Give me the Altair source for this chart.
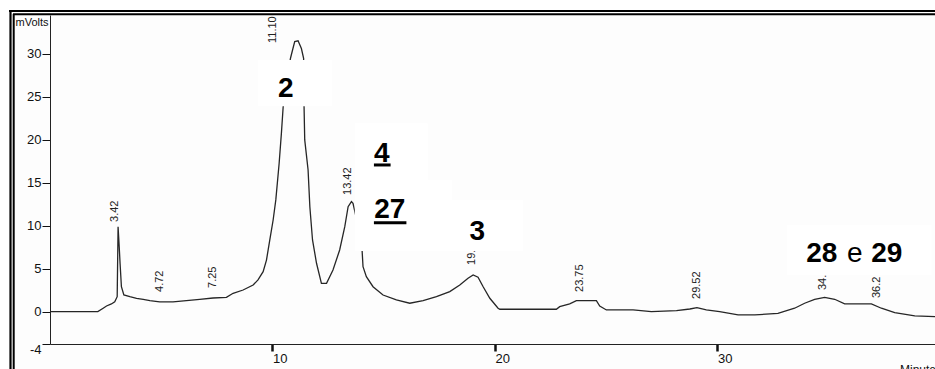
import altair as alt
import pandas as pd

# Detector trace: retention time (min) and signal (mV)
times = [
    0, 2.15, 2.39, 2.54, 2.76, 2.91, 3.02, 3.06, 3.11, 3.15, 3.21, 3.32,
    3.59, 3.89, 4.19, 4.49, 4.93, 5.53, 6.13, 6.73, 7.33, 7.93, 8.23, 8.68,
    9.13, 9.35, 9.58, 9.73, 9.88, 10.03, 10.15, 10.3, 10.4, 10.48,
    10.65, 10.81, 10.9, 11.0, 11.15, 11.3, 11.4, 11.42,
    11.45, 11.6, 11.68, 11.8, 11.98, 12.2, 12.43, 12.72, 13.02, 13.25, 13.4, 13.55, 13.62, 13.8,
    14.03, 14.07, 14.22, 14.52, 14.97, 15.57, 16.17, 16.77, 17.37, 17.97, 18.42, 18.79,
    19.02, 19.24, 19.47, 19.77, 20.14,
    20.22, 22.76, 22.91, 23.36, 23.66, 24.56, 24.71, 25.01, 26.21, 27.03, 28.16, 28.76,
    29.08, 29.5, 30.1, 30.93, 31.68, 32.72, 33.47, 33.92, 34.37, 34.82, 35.27, 35.72,
    36.17, 36.92, 37.37, 37.97, 38.87, 39.78,
]
signal = [
    0, 0, 0.4, 0.66, 0.9, 1.16, 1.74, 9.88, 7.6, 5.6, 2.9, 1.94,
    1.74, 1.55, 1.44, 1.28, 1.13, 1.13, 1.28, 1.44, 1.59, 1.67, 2.14, 2.52,
    3.1, 3.69, 4.65, 6.0, 8.34, 10.66, 13.0, 17.26, 20.7, 23.8,
    27.0, 29.47, 30.4, 31.4, 31.5, 30.6, 29.47, 23.8,
    19.97, 16.5, 12.2, 8.34, 5.63, 3.3, 3.3, 4.85, 7.17, 9.88, 12.2, 12.8, 12.6, 10.5,
    7.06, 5.23, 4.07, 2.9, 1.94, 1.36, 0.98, 1.28, 1.74, 2.33, 3.1, 3.88,
    4.27, 4.0, 2.9, 1.56, 0.4,
    0.28, 0.28, 0.58, 0.9, 1.28, 1.28, 0.66, 0.2, 0.2, 0.0, 0.12, 0.31,
    0.47, 0.2, 0.0, -0.38, -0.38, -0.19, 0.4, 0.98, 1.44, 1.67, 1.44, 0.9,
    0.9, 0.9, 0.4, -0.12, -0.5, -0.58,
]

# Retention-time tags printed vertically above the peaks
tag_text = ["3.42", "4.72", "7.25", "11.10", "13.42", "19.", "23.75", "29.52", "34.", "36.2"]
tag_time = [2.92, 4.94, 7.32, 10.01, 13.38, 18.99, 23.81, 29.07, 34.73, 37.16]
tag_level = [10.43, 2.29, 2.76, 31.24, 13.57, 5.43, 2.29, 1.48, 2.52, 1.59]

# Compound numbers (bold) and the joining word
num_text = ["2", "4", "27", "3", "28", "29"]
num_time = [10.6, 14.91, 15.27, 19.21, 34.69, 37.61]
num_level = [24.93, 17.44, 10.86, 8.34, 5.73, 5.73]
word_text = ["e"]
word_time = [36.17]
word_level = [5.73]

# White panels behind the compound numbers
box_t0 = [9.35, 13.7, 13.7, 18.06, 33.12]
box_t1 = [12.67, 16.98, 18.06, 21.25, 39.63]
box_v0 = [23.9, 15.3, 7.06, 7.06, 4.27]
box_v1 = [29.27, 21.9, 15.3, 13.0, 10.08]

# Underlines under "4" and "27"
ul_t0 = [14.56, 14.56]
ul_t1 = [15.31, 16.02]
ul_v = [17.06, 10.35]

FONT = "Liberation Sans"
xs = alt.Scale(domain=[0, 39.78], nice=False, zero=False)
ys = alt.Scale(domain=[-3.76, 34.5], nice=False, zero=False)

trace_df = pd.DataFrame({"t": times, "mv": signal})
tags_df = pd.DataFrame({"t": tag_time, "mv": tag_level, "txt": tag_text})
nums_df = pd.DataFrame({"t": num_time, "mv": num_level, "txt": num_text})
word_df = pd.DataFrame({"t": word_time, "mv": word_level, "txt": word_text})
box_df = pd.DataFrame({"t": box_t0, "t1": box_t1, "mv": box_v0, "v1": box_v1})
ul_df = pd.DataFrame({"t": ul_t0, "t1": ul_t1, "mv": ul_v})
one = pd.DataFrame({"k": [0]})

x_axis = alt.Axis(
    values=[10, 20, 30], title=None, grid=False, tickSize=7, tickWidth=2.5,
    tickColor="#111", domainColor="#222", labelAlign="left", labelBaseline="top",
    labelPadding=1, labelFontSize=13, labelFont=FONT, labelColor="#111", zindex=1,
)
y_axis = alt.Axis(
    values=[-3.76, 0, 5, 10, 15, 20, 25, 30],
    labelExpr="datum.value < -3 ? '-4' : datum.label",
    labelOffset={"condition": {"test": "datum.value < -3", "value": 5}, "value": 0},
    title=None, grid=False, tickSize=8, tickColor="#111", domainColor="#222",
    labelPadding=1, labelFontSize=13, labelFont=FONT, labelColor="#111", zindex=1,
)

X = alt.X("t:Q", scale=xs, axis=x_axis)
Y = alt.Y("mv:Q", scale=ys, axis=y_axis)

panel_bg = alt.Chart(one).mark_rect(color="#fdfdfd").encode(
    x=alt.value(-35), x2=alt.value(885), y=alt.value(0), y2=alt.value(354)
)

trace = alt.Chart(trace_df).mark_line(color="#262626", strokeWidth=1.3).encode(x=X, y=Y)

tags = alt.Chart(tags_df).mark_text(
    angle=270, align="left", baseline="middle", fontSize=11, font=FONT, color="#222"
).encode(x=X, y=Y, text="txt:N")

boxes = alt.Chart(box_df).mark_rect(color="white").encode(
    x=X, x2="t1:Q", y=Y, y2="v1:Q",
)

nums = alt.Chart(nums_df).mark_text(
    align="center", baseline="alphabetic", fontSize=28, fontWeight="bold", font=FONT, color="black"
).encode(x=X, y=Y, text="txt:N")

word = alt.Chart(word_df).mark_text(
    align="center", baseline="alphabetic", fontSize=28, font=FONT, color="black"
).encode(x=X, y=Y, text="txt:N")

underlines = alt.Chart(ul_df).mark_rule(color="black", strokeWidth=3).encode(
    x=X, x2="t1:Q", y=Y,
)

# Double-line frame on the top and left edges
frame_top_outer = alt.Chart(one).mark_rule(color="black", strokeWidth=2.2).encode(
    x=alt.value(-41), x2=alt.value(885), y=alt.value(-4)
)
frame_top_inner = alt.Chart(one).mark_rule(color="black", strokeWidth=2.0).encode(
    x=alt.value(-37), x2=alt.value(885), y=alt.value(-0.8)
)
frame_left_outer = alt.Chart(one).mark_rule(color="black", strokeWidth=2.2).encode(
    x=alt.value(-39.5), y=alt.value(-5), y2=alt.value(354)
)
frame_left_inner = alt.Chart(one).mark_rule(color="black", strokeWidth=2.0).encode(
    x=alt.value(-36.3), y=alt.value(-1), y2=alt.value(354)
)

y_title = alt.Chart(one).mark_text(
    fontSize=11, font=FONT, color="#111", align="center", baseline="middle"
).encode(x=alt.value(-18), y=alt.value(8), text=alt.value("mVolts"))

x_title = alt.Chart(one).mark_text(
    fontSize=12, font=FONT, color="#111", align="left", baseline="top"
).encode(x=alt.value(850), y=alt.value(350), text=alt.value("Minutes"))

chart = alt.layer(
    panel_bg, trace, tags, boxes, nums, word, underlines,
    frame_top_outer, frame_top_inner, frame_left_outer, frame_left_inner,
    y_title, x_title,
).properties(
    width=885, height=329,
    autosize=alt.AutoSizeParams(type="none"),
    padding={"left": 50, "top": 15, "right": 0, "bottom": 25},
    background="white",
).configure_view(stroke=None)

chart.save("out.html", embed_options={"renderer": "svg", "actions": False})
